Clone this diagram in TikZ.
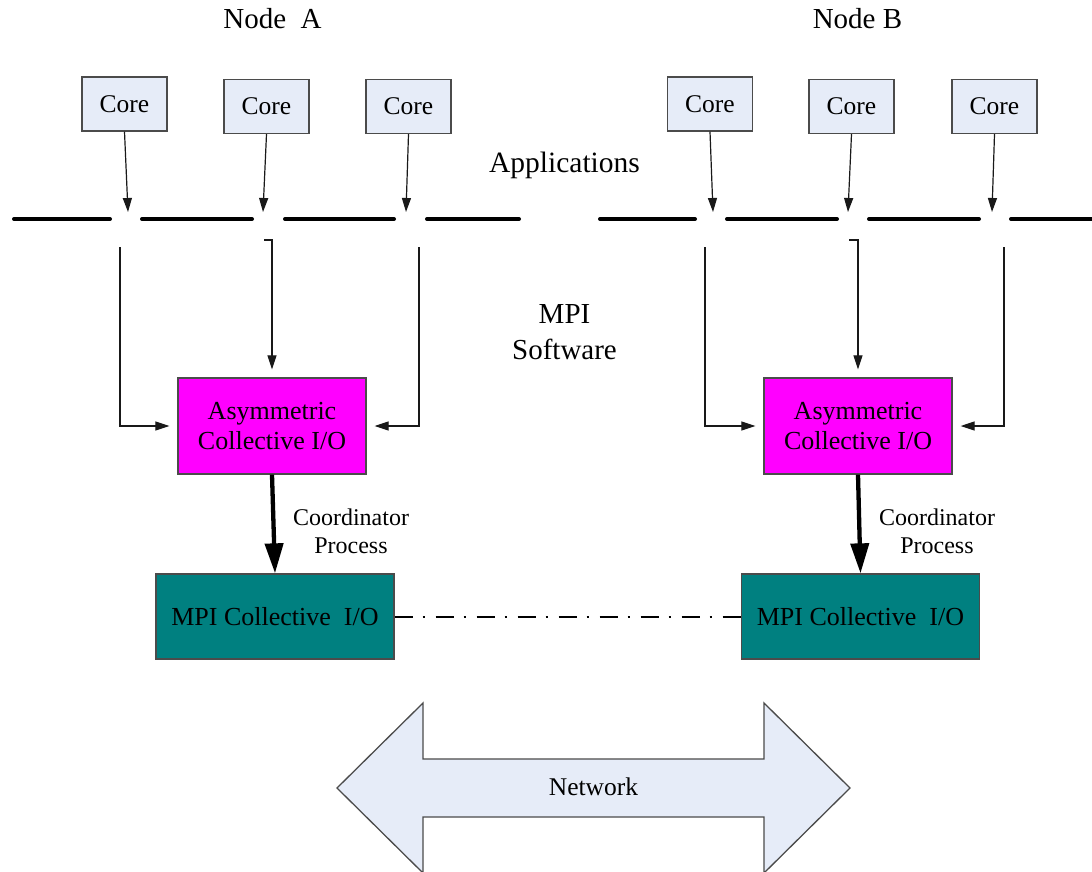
\documentclass[tikz,border=0pt]{standalone}
\usepackage{fontspec}
\setmainfont{Liberation Serif}
\usetikzlibrary{arrows.meta}
\definecolor{corefill}{RGB}{230,236,248}
\definecolor{boxline}{RGB}{75,75,75}
\definecolor{asymfill}{RGB}{255,0,255}
\definecolor{mpifill}{RGB}{0,128,128}
\definecolor{wire}{RGB}{25,25,25}

\begin{document}
\begin{tikzpicture}[x=1pt,y=-1pt,
  corebox/.style={draw=boxline, line width=1.3pt, fill=corefill,
    minimum width=85pt, minimum height=54pt, inner sep=0pt,
    font=\fontsize{25.5}{30}\selectfont},
  asymbox/.style={draw=boxline, line width=1.3pt, fill=asymfill,
    minimum width=188pt, minimum height=96pt, inner sep=0pt, align=center,
    font=\fontsize{26}{30}\selectfont},
  mpibox/.style={draw=boxline, line width=1.3pt, fill=mpifill,
    minimum width=238pt, minimum height=85pt, inner sep=0pt,
    font=\fontsize{26}{30}\selectfont},
  biglabel/.style={inner sep=0pt, font=\fontsize{29}{36}\selectfont, align=center},
  smalllabel/.style={inner sep=0pt, font=\fontsize{24}{28}\selectfont, align=center},
  bus/.style={line width=4pt, line cap=round, black},
  tap/.style={wire, line width=1.2pt, -{Triangle[length=14pt,width=9pt]}},
  feed/.style={wire, line width=1.2pt, -{Triangle[length=14pt,width=9pt]}, shorten >=8pt},
  coordarrow/.style={black, line width=4.3pt, -{Triangle[length=30pt,width=18pt]}},
  link/.style={black, line width=2pt, dash pattern=on 18pt off 10pt on 2pt off 11pt},
  netarrow/.style={draw=boxline, line width=1.3pt, fill=corefill, line join=miter}
]
\useasboundingbox (0,0) rectangle (1092,871);
\fill[white] (0,0) rectangle (1092,871);

% node titles and layer labels
\node[biglabel, anchor=base] (titleA) at (272.5,28) {Node\ \ A};
\node[biglabel, anchor=base] (titleB) at (857.5,28) {Node B};
\node[biglabel, anchor=base, font=\fontsize{29.5}{36}\selectfont] (apps) at (564.5,172) {Applications};
\node[biglabel] (mpisw) at (564.5,332.5) {MPI\\Software};

% cores of node A and node B
\node[corebox] (cA1) at (124.5,104)   {Core};
\node[corebox] (cA2) at (266.5,106.5) {Core};
\node[corebox] (cA3) at (408.5,106.5) {Core};
\node[corebox] (cB1) at (710,104)     {Core};
\node[corebox] (cB2) at (851.5,106.5) {Core};
\node[corebox] (cB3) at (994.5,106.5) {Core};

% application bus, broken where the cores attach
\draw[bus] (14,219) -- (110,219);
\draw[bus] (142,219) -- (252,219);
\draw[bus] (285,219) -- (394,219);
\draw[bus] (427,219) -- (519,219);
\draw[bus] (600,219) -- (695,219);
\draw[bus] (727,219) -- (837,219);
\draw[bus] (869,219) -- (979,219);
\draw[bus] (1011,219) -- (1096,219);

\coordinate (pA1) at (128,212);
\coordinate (pA2) at (263,212);
\coordinate (pA3) at (406,212);
\coordinate (pB1) at (713,212);
\coordinate (pB2) at (848,212);
\coordinate (pB3) at (992,212);
\draw[tap] (cA1.south) -- (pA1);
\draw[tap] (cA2.south) -- (pA2);
\draw[tap] (cA3.south) -- (pA3);
\draw[tap] (cB1.south) -- (pB1);
\draw[tap] (cB2.south) -- (pB2);
\draw[tap] (cB3.south) -- (pB3);

% asymmetric collective I/O layer
\node[asymbox] (asymA) at (272,426) {Asymmetric\\Collective I/O};
\node[asymbox] (asymB) at (858,426) {Asymmetric\\Collective I/O};

\coordinate (lA) at (120,247);
\coordinate (hA) at (264,240);
\coordinate (rA) at (419,247);
\coordinate (lB) at (705,247);
\coordinate (hB) at (849,240);
\coordinate (rB) at (1004,247);
\draw[feed] (lA) |- (asymA.west);
\draw[feed] (hA) -| (asymA.north);
\draw[feed] (rA) |- (asymA.east);
\draw[feed] (lB) |- (asymB.west);
\draw[feed] (hB) -| (asymB.north);
\draw[feed] (rB) |- (asymB.east);

% MPI collective I/O layer
\node[mpibox] (mpiA) at (275,616.5) {MPI Collective\ \ I/O};
\node[mpibox] (mpiB) at (860.5,616.5) {MPI Collective\ \ I/O};

\draw[coordarrow] (asymA.south) -- (mpiA.north);
\draw[coordarrow] (asymB.south) -- (mpiB.north);
\node[smalllabel] (coA) at (351,531) {Coordinator\\Process};
\node[smalllabel] (coB) at (937,531) {Coordinator\\Process};

\draw[link] (mpiA.east) -- (mpiB.west);

% network
\draw[netarrow] (337,788) -- (423,703) -- (423,759) -- (764,759) -- (764,703)
  -- (850,788) -- (764,873) -- (764,817) -- (423,817) -- (423,873) -- cycle;
\node[inner sep=0pt, font=\fontsize{25.5}{30}\selectfont] (net) at (593.5,787) {Network};
\end{tikzpicture}
\end{document}
